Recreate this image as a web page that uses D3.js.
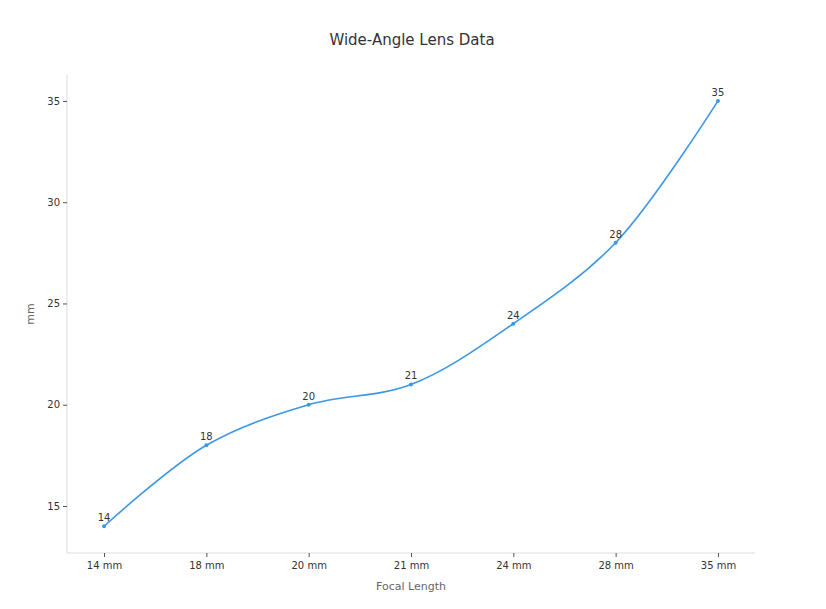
<!DOCTYPE html>
<html>
<head>
<meta charset="utf-8">
<script src="https://cdn.jsdelivr.net/npm/d3@7"></script>
<style>
  body { margin: 0; background: #fff; }
  svg { font-family: "DejaVu Sans", sans-serif; }
</style>
</head>
<body>
<div id="viz"></div>
<script>
// focal length categories and the value at each
var focalLengths = ["14 mm", "18 mm", "20 mm", "21 mm", "24 mm", "28 mm", "35 mm"];
var lensValues = [14, 18, 20, 21, 24, 28, 35];
var yTicks = [15, 20, 25, 30, 35];

var chartW = 826, chartH = 609;
// plot box (window.top is read-only, so no bare "top")
var plotLeft = 67, plotRight = 755, plotTop = 75, plotBottom = 553;

var svg = d3.select("#viz").append("svg")
    .attr("width", chartW)
    .attr("height", chartH);

var x = d3.scalePoint()
    .domain(focalLengths)
    .range([plotLeft, plotRight])
    .padding(0.362);

var y = d3.scaleLinear()
    .domain([12.68, 36.28])
    .range([plotBottom, plotTop]);

// title
svg.append("text")
    .attr("x", 412)
    .attr("y", 45)
    .attr("text-anchor", "middle")
    .style("font-size", "15px")
    .style("fill", "#333")
    .text("Wide-Angle Lens Data");

// y axis
var yAxis = svg.append("g")
    .attr("transform", "translate(" + plotLeft + ",0)")
    .call(d3.axisLeft(y).tickValues(yTicks).tickSize(4).tickPadding(3));
yAxis.select(".domain").attr("stroke", "#ddd").attr("d", "M0," + plotTop + "V" + plotBottom);
yAxis.selectAll(".tick line").attr("stroke", "#555");
yAxis.selectAll(".tick text").style("font-size", "10px").style("fill", "#333")
    .style("font-family", "DejaVu Sans, sans-serif");

// x axis
var xAxis = svg.append("g")
    .attr("transform", "translate(0," + plotBottom + ")")
    .call(d3.axisBottom(x).tickSize(4).tickPadding(5));
xAxis.select(".domain").attr("stroke", "#ddd").attr("d", "M" + plotLeft + ",0H" + plotRight);
xAxis.selectAll(".tick line").attr("stroke", "#555");
xAxis.selectAll(".tick text").style("font-size", "10px").style("fill", "#333")
    .style("font-family", "DejaVu Sans, sans-serif");

// axis titles
svg.append("text")
    .attr("x", (plotLeft + plotRight) / 2)
    .attr("y", 590)
    .attr("text-anchor", "middle")
    .style("font-size", "11px")
    .style("fill", "#666")
    .text("Focal Length");

svg.append("text")
    .attr("transform", "translate(34," + ((plotTop + plotBottom) / 2) + ") rotate(-90)")
    .attr("text-anchor", "middle")
    .style("font-size", "11px")
    .style("fill", "#666")
    .text("mm");

// line
var line = d3.line()
    .x(function(d, i) { return x(focalLengths[i]); })
    .y(function(d) { return y(d); })
    .curve(d3.curveCatmullRom.alpha(0.5));

svg.append("path")
    .datum(lensValues)
    .attr("d", line)
    .attr("fill", "none")
    .attr("stroke", "#3b97e8")
    .attr("stroke-width", 1.6);

svg.selectAll("circle.pt")
    .data(lensValues)
    .enter().append("circle")
    .attr("class", "pt")
    .attr("cx", function(d, i) { return x(focalLengths[i]); })
    .attr("cy", function(d) { return y(d); })
    .attr("r", 2)
    .attr("fill", "#3b97e8");

svg.selectAll("text.lbl")
    .data(lensValues)
    .enter().append("text")
    .attr("class", "lbl")
    .attr("x", function(d, i) { return x(focalLengths[i]); })
    .attr("y", function(d) { return y(d) - 5; })
    .attr("text-anchor", "middle")
    .style("font-size", "10px")
    .style("fill", "#333")
    .text(function(d) { return d; });
</script>
</body>
</html>
